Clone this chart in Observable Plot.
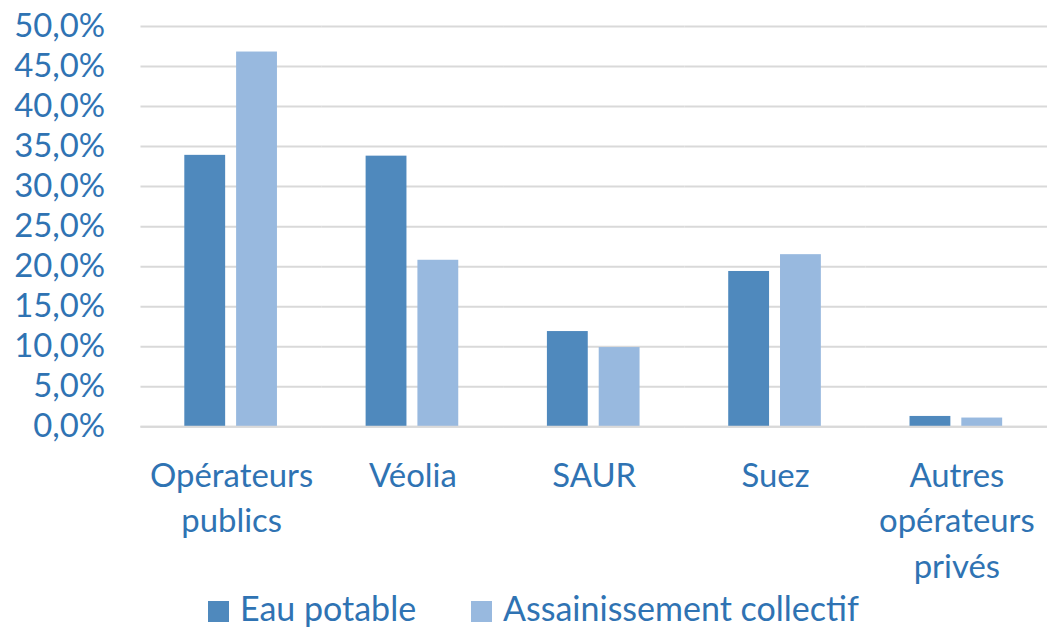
<!DOCTYPE html>
<html>
<head>
<meta charset="utf-8">
<script src="https://cdn.jsdelivr.net/npm/d3@7"></script>
<script src="https://cdn.jsdelivr.net/npm/@observablehq/plot@0.6"></script>
<style>
  body { margin: 0; background: #fff; overflow: hidden; }
  #wrap { position: relative; width: 1048px; height: 627px; overflow: hidden; font-family: Lato, "Open Sans", sans-serif; }
  #legend { position: absolute; top: 591px; left: 0; width: 1048px; height: 34px; font-size: 34px; line-height: 34px; color: #2F73B3; }
  .item { display: flex; align-items: flex-start; position: absolute; top: 0; white-space: nowrap; }
  .sw { width: 21px; height: 21px; margin-top: 10px; margin-right: 11px; }
</style>
</head>
<body>
<div id="wrap">
  <div id="chart"></div>
  <div id="legend"></div>
</div>
<script>
const categories = ["Opérateurs publics", "Véolia", "SAUR", "Suez", "Autres opérateurs privés"];
const categoryLabels = ["Opérateurs\npublics", "Véolia", "SAUR", "Suez", "Autres\nopérateurs\nprivés"];
const series = ["Eau potable", "Assainissement collectif"];
const eauPotable = [33.9, 33.8, 11.9, 19.4, 1.3];
const assainissement = [46.8, 20.8, 9.9, 21.5, 1.1];
const colors = ["#4F89BD", "#98B9DF"];
const yTicks = [0, 5, 10, 15, 20, 25, 30, 35, 40, 45, 50];

const data = [];
categories.forEach((c, i) => {
  data.push({cat: c, serie: series[0], value: eauPotable[i]});
  data.push({cat: c, serie: series[1], value: assainissement[i]});
});

const textColor = "#2F73B3";
const labelMap = new Map(categories.map((c, i) => [c, categoryLabels[i]]));

const chart = Plot.plot({
  width: 1052,
  height: 600,
  marginLeft: 139,
  marginRight: 0,
  marginTop: 26,
  marginBottom: 172,
  style: {fontFamily: "Lato, 'Open Sans', sans-serif", fontSize: "33px", color: textColor, background: "#fff", overflow: "visible"},
  fx: {domain: categories, padding: 0},
  x: {domain: series, paddingInner: 0.21, paddingOuter: 0.85},
  y: {domain: [0, 50]},
  color: {domain: series, range: colors},
  marks: [
    Plot.gridY(yTicks, {stroke: "#D9D9D9", strokeOpacity: 1, strokeWidth: 2}),
    Plot.barY(data, {fx: "cat", x: "serie", y: "value", fill: "serie"}),
    Plot.ruleY([0], {stroke: "#D9D9D9", strokeWidth: 2}),
    Plot.axisY(yTicks, {tickSize: 0, tickPadding: 36, tickFormat: d => d.toFixed(1).replace(".", ",") + "%", fill: textColor, fontSize: 33, label: null}),
    Plot.axisFx({anchor: "bottom", tickSize: 0, tickPadding: 28, tickFormat: d => labelMap.get(d), fill: textColor, fontSize: 33, lineHeight: 1.38, label: null}),
    Plot.axisX({ticks: [], label: null})
  ]
});
document.getElementById("chart").appendChild(chart);

const legend = document.getElementById("legend");
const positions = [208, 471];
series.forEach((s, i) => {
  const item = document.createElement("div");
  item.className = "item";
  item.style.left = positions[i] + "px";
  const sw = document.createElement("div");
  sw.className = "sw";
  sw.style.background = colors[i];
  const t = document.createElement("span");
  t.textContent = s;
  item.appendChild(sw);
  item.appendChild(t);
  legend.appendChild(item);
});
</script>
</body>
</html>
